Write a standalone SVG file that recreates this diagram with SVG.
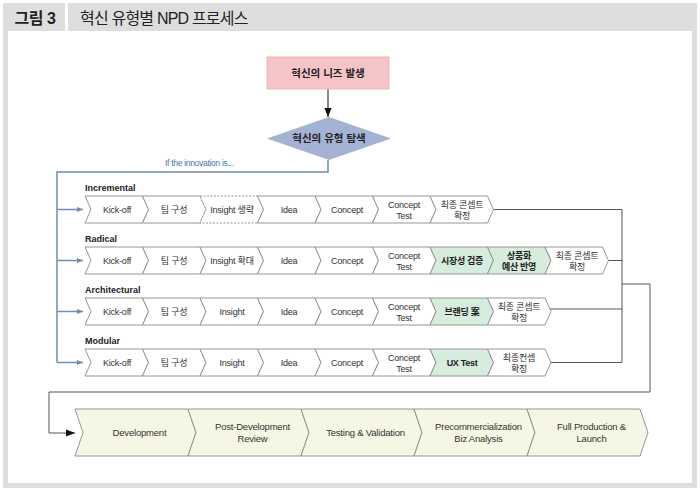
<svg xmlns="http://www.w3.org/2000/svg" xmlns:xlink="http://www.w3.org/1999/xlink" width="700" height="493" viewBox="0 0 700 493">
<style>
text{font-family:"Liberation Sans","Noto Sans CJK KR",sans-serif;fill:#333;}
.t{font-size:9px;text-anchor:middle;letter-spacing:-0.2px;}
.tb{font-size:9px;text-anchor:middle;font-weight:bold;fill:#222;letter-spacing:-0.3px;}
.lbl{font-size:9px;font-weight:bold;fill:#222;}
.big{font-size:9.5px;text-anchor:middle;fill:#333;letter-spacing:-0.2px;}
.cw{fill:#fff;stroke:#8a8a8a;stroke-width:0.9;}
.cg{fill:#d6ecdc;stroke:#8a8a8a;stroke-width:0.9;}
.cd{fill:#fff;stroke:#8a8a8a;stroke-width:0.9;stroke-dasharray:2 1.5;}
.cy{fill:#f5f7e4;stroke:#8a8a8a;stroke-width:0.9;}
.blue{fill:none;stroke:#6b8dbf;stroke-width:1.5;}
.gray{fill:none;stroke:#555;stroke-width:1;}
</style>
<defs>
<path id="ch" d="M0,0 h57.5 l6,13.5 l-6,13.5 h-57.5 l6,-13.5 z"/>
<path id="cb" d="M0,0 h113 l8,23.5 l-8,23.5 h-113 l8,-23.5 z"/>
<marker id="ab" viewBox="0 0 10 10" refX="10" refY="5" markerWidth="6" markerHeight="6" orient="auto" markerUnits="userSpaceOnUse"><path d="M0,1 L10,5 L0,9 z" fill="#6b8dbf"/></marker>
<marker id="ak" viewBox="0 0 10 10" refX="10" refY="5" markerWidth="9" markerHeight="9" orient="auto" markerUnits="userSpaceOnUse"><path d="M0,1 L10,5 L0,9 z" fill="#111"/></marker>
</defs>

<!-- frame -->
<g id="frame">
<rect x="0" y="0" width="700" height="493" fill="#fff"/>
<rect x="3" y="3" width="62" height="28" fill="#dedede"/>
<rect x="68" y="3" width="629" height="28" fill="#dedede"/>
<rect x="3" y="31" width="5" height="457" fill="#dedede"/>
<rect x="692" y="31" width="5" height="457" fill="#dedede"/>
<rect x="3" y="483" width="694" height="5" fill="#dedede"/>
<text x="35" y="24" style="font-size:16px;font-weight:bold;fill:#222;text-anchor:middle;letter-spacing:-0.5px">그림 3</text>
<text x="80" y="24" style="font-size:16px;fill:#222;letter-spacing:-0.8px">혁신 유형별 NPD 프로세스</text>
</g>

<!-- connectors -->
<g id="connectors">
<line x1="328" y1="89" x2="328" y2="117" stroke="#111" stroke-width="1" marker-end="url(#ak)"/>
<polyline class="blue" points="328,160 328,172 57,172 57,362.5"/>
<line class="blue" x1="57" y1="209.5" x2="83" y2="209.5" marker-end="url(#ab)"/>
<line class="blue" x1="57" y1="260.5" x2="83" y2="260.5" marker-end="url(#ab)"/>
<line class="blue" x1="57" y1="311.5" x2="83" y2="311.5" marker-end="url(#ab)"/>
<line class="blue" x1="57" y1="362.5" x2="83" y2="362.5" marker-end="url(#ab)"/>
<text x="165" y="166" style="font-size:8.5px;fill:#4a74b8;letter-spacing:-0.3px">If the innovation is...</text>
<polyline class="gray" points="493.5,209.5 622,209.5 622,362.5"/>
<line class="gray" x1="608.5" y1="260.5" x2="622" y2="260.5"/>
<line class="gray" x1="493.5" y1="309" x2="622" y2="309"/>
<line class="gray" x1="493.5" y1="362.5" x2="622" y2="362.5"/>
<polyline class="gray" points="622,284 650,284 650,392 49,392 49,433 75,433" marker-end="url(#ak)"/>
</g>

<!-- top nodes -->
<g id="need">
<rect x="267" y="57" width="122" height="32" fill="#f4c4c7" stroke="#eab0b4" stroke-width="0.8"/>
<text x="328" y="76.5" style="font-size:10.5px;font-weight:bold;text-anchor:middle;fill:#222">혁신의 니즈 발생</text>
</g>
<g id="explore">
<polygon points="329,117 391,138.5 329,160 267,138.5" fill="#a4b3d4"/>
<text x="329" y="142" style="font-size:10.5px;font-weight:bold;text-anchor:middle;fill:#222">혁신의 유형 탐색</text>
</g>

<!-- Incremental -->
<g id="incremental">
<text class="lbl" x="85" y="191">Incremental</text>
<g id="inc1"><use href="#ch" x="85" y="196" class="cw"/><text class="t" x="117" y="213">Kick-off</text></g>
<g id="inc2"><use href="#ch" x="142.5" y="196" class="cw"/><text class="t" x="174" y="213">팀 구성</text></g>
<g id="inc3"><use href="#ch" x="200" y="196" class="cd"/><text class="t" x="232" y="213">Insight 생략</text></g>
<g id="inc4"><use href="#ch" x="257.5" y="196" class="cw"/><text class="t" x="289" y="213">Idea</text></g>
<g id="inc5"><use href="#ch" x="315" y="196" class="cw"/><text class="t" x="347" y="213">Concept</text></g>
<g id="inc6"><use href="#ch" x="372.5" y="196" class="cw"/><text class="t" x="404" y="207.5">Concept</text><text class="t" x="404" y="218.5">Test</text></g>
<g id="inc7"><use href="#ch" x="430" y="196" class="cw"/><text class="t" x="462" y="207.5">최종 콘셉트</text><text class="t" x="462" y="218.5">확정</text></g>
</g>

<!-- Radical -->
<g id="radical">
<text class="lbl" x="85" y="242">Radical</text>
<g id="rad1"><use href="#ch" x="85" y="247" class="cw"/><text class="t" x="117" y="264">Kick-off</text></g>
<g id="rad2"><use href="#ch" x="142.5" y="247" class="cw"/><text class="t" x="174" y="264">팀 구성</text></g>
<g id="rad3"><use href="#ch" x="200" y="247" class="cw"/><text class="t" x="232" y="264">Insight 확대</text></g>
<g id="rad4"><use href="#ch" x="257.5" y="247" class="cw"/><text class="t" x="289" y="264">Idea</text></g>
<g id="rad5"><use href="#ch" x="315" y="247" class="cw"/><text class="t" x="347" y="264">Concept</text></g>
<g id="rad6"><use href="#ch" x="372.5" y="247" class="cw"/><text class="t" x="404" y="258.5">Concept</text><text class="t" x="404" y="269.5">Test</text></g>
<g id="rad7"><use href="#ch" x="430" y="247" class="cg"/><text class="tb" x="462" y="264">시장성 검증</text></g>
<g id="rad8"><use href="#ch" x="487.5" y="247" class="cg"/><text class="tb" x="519" y="258.5">상품화</text><text class="tb" x="519" y="269.5">예산 반영</text></g>
<g id="rad9"><use href="#ch" x="545" y="247" class="cw"/><text class="t" x="577" y="258.5">최종 콘셉트</text><text class="t" x="577" y="269.5">확정</text></g>
</g>

<!-- Architectural -->
<g id="architectural">
<text class="lbl" x="85" y="293">Architectural</text>
<g id="arc1"><use href="#ch" x="85" y="298" class="cw"/><text class="t" x="117" y="315">Kick-off</text></g>
<g id="arc2"><use href="#ch" x="142.5" y="298" class="cw"/><text class="t" x="174" y="315">팀 구성</text></g>
<g id="arc3"><use href="#ch" x="200" y="298" class="cw"/><text class="t" x="232" y="315">Insight</text></g>
<g id="arc4"><use href="#ch" x="257.5" y="298" class="cw"/><text class="t" x="289" y="315">Idea</text></g>
<g id="arc5"><use href="#ch" x="315" y="298" class="cw"/><text class="t" x="347" y="315">Concept</text></g>
<g id="arc6"><use href="#ch" x="372.5" y="298" class="cw"/><text class="t" x="404" y="309.5">Concept</text><text class="t" x="404" y="320.5">Test</text></g>
<g id="arc7"><use href="#ch" x="430" y="298" class="cg"/><text class="tb" x="462" y="315">브랜딩 案</text></g>
<g id="arc8"><use href="#ch" x="487.5" y="298" class="cw"/><text class="t" x="519" y="309.5">최종 콘셉트</text><text class="t" x="519" y="320.5">확정</text></g>
</g>

<!-- Modular -->
<g id="modular">
<text class="lbl" x="85" y="344">Modular</text>
<g id="mod1"><use href="#ch" x="85" y="349" class="cw"/><text class="t" x="117" y="366">Kick-off</text></g>
<g id="mod2"><use href="#ch" x="142.5" y="349" class="cw"/><text class="t" x="174" y="366">팀 구성</text></g>
<g id="mod3"><use href="#ch" x="200" y="349" class="cw"/><text class="t" x="232" y="366">Insight</text></g>
<g id="mod4"><use href="#ch" x="257.5" y="349" class="cw"/><text class="t" x="289" y="366">Idea</text></g>
<g id="mod5"><use href="#ch" x="315" y="349" class="cw"/><text class="t" x="347" y="366">Concept</text></g>
<g id="mod6"><use href="#ch" x="372.5" y="349" class="cw"/><text class="t" x="404" y="360.5">Concept</text><text class="t" x="404" y="371.5">Test</text></g>
<g id="mod7"><use href="#ch" x="430" y="349" class="cg"/><text class="tb" x="462" y="366">UX Test</text></g>
<g id="mod8"><use href="#ch" x="487.5" y="349" class="cw"/><text class="t" x="519" y="360.5">최종컨셉</text><text class="t" x="519" y="371.5">확정</text></g>
</g>

<!-- Common stages -->
<g id="common">
<g id="dev"><use href="#cb" x="75" y="409" class="cy"/><text class="big" x="139.5" y="436">Development</text></g>
<g id="pdr"><use href="#cb" x="188" y="409" class="cy"/><text class="big" x="252.5" y="430">Post-Development</text><text class="big" x="252.5" y="442">Review</text></g>
<g id="tv"><use href="#cb" x="301" y="409" class="cy"/><text class="big" x="365.5" y="436">Testing &amp; Validation</text></g>
<g id="pba"><use href="#cb" x="414" y="409" class="cy"/><text class="big" x="478.5" y="430">Precommercialization</text><text class="big" x="478.5" y="442">Biz Analysis</text></g>
<g id="fpl"><use href="#cb" x="527" y="409" class="cy"/><text class="big" x="591.5" y="430">Full Production &amp;</text><text class="big" x="591.5" y="442">Launch</text></g>
</g>
</svg>
